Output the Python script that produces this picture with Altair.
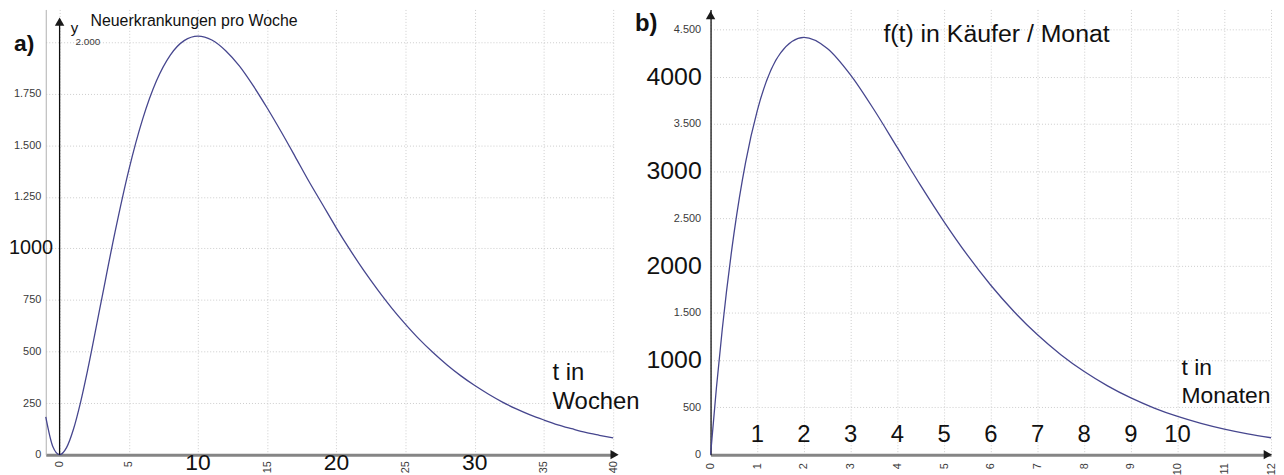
import altair as alt
import pandas as pd

# ---------------- data ----------------
# a) Neuerkrankungen pro Woche (t in Wochen)
t_a = [-1, -0.5, 0, 0.5, 1, 1.5, 2, 3, 4, 5, 6, 7, 8, 9, 10, 11, 12, 13, 14, 15,
       16, 17, 18, 19, 20, 21, 22, 23, 24, 25, 26, 27, 28, 29, 30, 31, 32, 33,
       34, 35, 36, 37, 38, 39, 40]
y_a = [183, 41, 0, 34, 123, 250, 402, 741, 1078, 1380, 1627, 1813, 1938, 2008,
       2030, 2011, 1959, 1884, 1788, 1681, 1567, 1448, 1327, 1213, 1099, 992, 891,
       798, 711, 632, 559, 494, 435, 382, 335, 293, 255, 222, 193, 168, 145, 126,
       108, 94, 81]

# b) f(t) in Käufer / Monat (t in Monaten)
t_b = [0, 0.125, 0.25, 0.5, 0.75, 1, 1.5, 2, 2.5, 3, 3.5, 4, 4.5, 5, 5.5, 6, 6.5,
       7, 7.5, 8, 8.5, 9, 9.5, 10, 10.5, 11, 11.5, 12]
y_b = [0, 705, 1324, 2336, 3093, 3639, 4251, 4415, 4298, 4016, 3649, 3248, 2846,
       2463, 2110, 1792, 1512, 1268, 1058, 879, 728, 600, 493, 404, 331, 270, 220,
       179]

xticks_a = [0, 5, 10, 15, 20, 25, 30, 35, 40]
yticks_a = [0, 250, 500, 750, 1000, 1250, 1500, 1750, 2000]
xticks_b = list(range(0, 13))
yticks_b = [0, 500, 1000, 1500, 2000, 2500, 3000, 3500, 4000, 4500]
big_x_a = ["10", "20", "30"]
big_x_b = ["1", "2", "3", "4", "5", "6", "7", "8", "9", "10"]
big_y_b = ["4000", "3000", "2000", "1000"]

FONT = "Liberation Sans"
LINE_COLOR = "#46468e"
GRID = "#cdcdcd"


def de_fmt(blank):
    cond = " || ".join(f"datum.value == {b}" for b in blank) if blank else "false"
    return f"({cond}) ? '' : replace(format(datum.value, ','), ',', '.')"


def axis_common(**kw):
    base = dict(labelFont=FONT, labelFontSize=11, labelColor="#3a3a3a", ticks=False,
                grid=True, gridColor=GRID, gridDash=[1, 2], gridWidth=1, title=None)
    base.update(kw)
    return alt.Axis(**base)


# shared encodings (same scale + axis in every layer of a panel)
XA = alt.X("t:Q", scale=alt.Scale(domain=[-1, 40], nice=False, zero=False),
           axis=axis_common(values=xticks_a, labelAngle=270, labelPadding=6,
                            domainColor="#858585", domainWidth=3,
                            labelExpr=de_fmt([10, 20, 30])))
YA = alt.Y("v:Q", scale=alt.Scale(domain=[0, 2159], nice=False, zero=False),
           axis=axis_common(values=yticks_a, labelPadding=5, domainColor="#b0b0b0",
                            domainWidth=1, labelExpr=de_fmt([1000, 2000])))
XB = alt.X("t:Q", scale=alt.Scale(domain=[0, 12], nice=False, zero=False),
           axis=axis_common(values=xticks_b, labelAngle=270, labelPadding=8,
                            domainColor="#858585", domainWidth=3))
YB = alt.Y("v:Q", scale=alt.Scale(domain=[0, 4710], nice=False, zero=False),
           axis=axis_common(values=yticks_b, labelPadding=10, domainColor="#111",
                            domainWidth=1.3, labelExpr=de_fmt([1000, 2000, 3000, 4000])))


def text_layer(df, X, Y, size, align="left", weight="normal", color="#111"):
    return alt.Chart(df).mark_text(
        font=FONT, fontSize=size, align=align, baseline="middle",
        fontWeight=weight, color=color
    ).encode(x=X, y=Y, text="label:N")


def arrow(t, v, shape, X, Y):
    return alt.Chart(pd.DataFrame({"t": [t], "v": [v]})).mark_point(
        shape=shape, filled=True, size=90, color="#1a1a1a", opacity=1
    ).encode(x=X, y=Y)


# ---------------- panel a ----------------
line_a = alt.Chart(pd.DataFrame({"t": t_a, "v": y_a})).mark_line(
    color=LINE_COLOR, strokeWidth=1.3, interpolate="monotone"
).encode(x=XA, y=YA)

yaxis_a = alt.Chart(pd.DataFrame({"t": [0], "v": [0], "v2": [2112]})).mark_rule(
    color="#111", strokeWidth=1.3
).encode(x=XA, y=YA, y2="v2:Q")

ann_a = [
    text_layer(pd.DataFrame({"t": [10, 20, 30], "v": [-39] * 3, "label": big_x_a}), XA, YA, 23, "center"),
    text_layer(pd.DataFrame({"t": [-3.657], "v": [1000], "label": ["1000"]}), XA, YA, 20),
    text_layer(pd.DataFrame({"t": [-3.3], "v": [1990], "label": ["a)"]}), XA, YA, 23, weight="bold"),
    text_layer(pd.DataFrame({"t": [0.8], "v": [2067], "label": ["y"]}), XA, YA, 15),
    text_layer(pd.DataFrame({"t": [1.15], "v": [2000], "label": ["2.000"]}), XA, YA, 10, color="#3a3a3a"),
    text_layer(pd.DataFrame({"t": [2.23], "v": [2101], "label": ["Neuerkrankungen pro Woche"]}), XA, YA, 16),
    text_layer(pd.DataFrame({"t": [35.62, 35.62], "v": [395, 255], "label": ["t in", "Wochen"]}), XA, YA, 24),
]

panel_a = alt.layer(
    line_a, yaxis_a,
    arrow(40.1, 0, "triangle-right", XA, YA),
    arrow(0, 2100, "triangle-up", XA, YA),
    *ann_a
).properties(width=571, height=448)

# ---------------- panel b ----------------
line_b = alt.Chart(pd.DataFrame({"t": t_b, "v": y_b})).mark_line(
    color=LINE_COLOR, strokeWidth=1.3, interpolate="monotone"
).encode(x=XB, y=YB)

ann_b = [
    text_layer(pd.DataFrame({"t": list(range(1, 11)), "v": [210] * 10, "label": big_x_b}), XB, YB, 24, "center"),
    text_layer(pd.DataFrame({"t": [-0.19] * 4, "v": [4000, 3000, 2000, 1000], "label": big_y_b}), XB, YB, 25, "right"),
    text_layer(pd.DataFrame({"t": [-1.62], "v": [4553], "label": ["b)"]}), XB, YB, 24, weight="bold"),
    text_layer(pd.DataFrame({"t": [3.7], "v": [4447], "label": ["f(t) in Käufer / Monat"]}), XB, YB, 25),
    text_layer(pd.DataFrame({"t": [10.085, 10.085], "v": [920, 620], "label": ["t in", "Monaten"]}), XB, YB, 23),
]

panel_b = alt.layer(
    line_b,
    arrow(11.93, 0, "triangle-right", XB, YB),
    arrow(0, 4650, "triangle-up", XB, YB),
    *ann_b
).properties(width=564, height=448)

chart = alt.hconcat(panel_a, panel_b, spacing=98, bounds="flush").properties(
    padding=0
).configure_view(stroke=None)

chart.save("out.html", embed_options={"renderer": "svg", "actions": False})
